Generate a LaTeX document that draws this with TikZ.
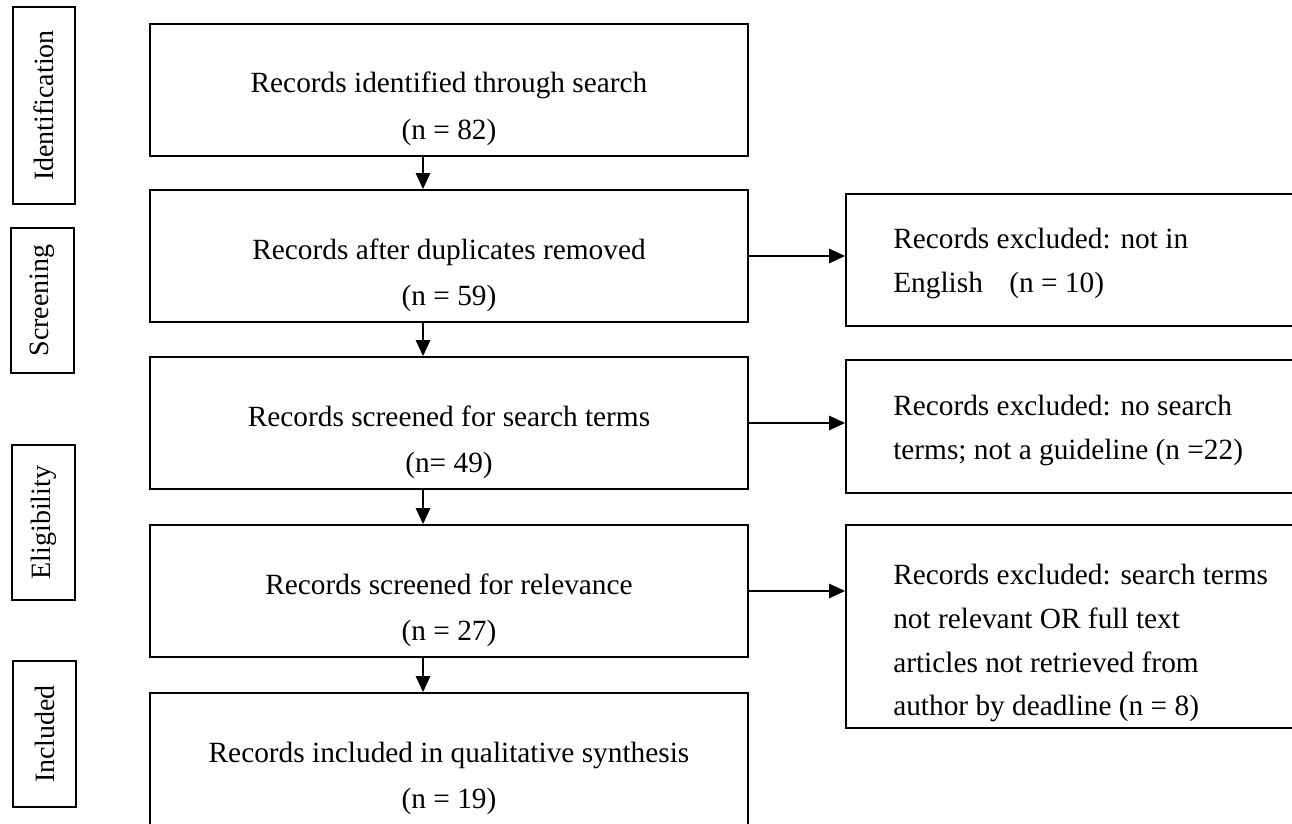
\documentclass[tikz,border=0pt]{standalone}
\usepackage{fontspec}
\setmainfont{Liberation Serif}
\usetikzlibrary{arrows.meta}
\begin{document}
\begin{tikzpicture}[x=0.75pt,y=-0.75pt,
  mainbox/.style={draw, line width=1.5pt, inner sep=0pt},
  sidebox/.style={draw, line width=1.5pt, inner sep=0pt},
  labbox/.style={draw, line width=1.1pt, inner sep=0pt, rotate=90, font=\fontsize{21}{25}\selectfont},
  txt/.style={inner sep=0pt, font=\fontsize{22}{26}\selectfont},
  ctxt/.style={txt, anchor=base},
  ltxt/.style={txt, anchor=base west},
  arr/.style={line width=0.8pt, -{Triangle[length=12pt,width=11pt]}}
]
\useasboundingbox (0,0) rectangle (1292,824);
\clip (0,0) rectangle (1292,824);

% stage labels
\node[labbox, minimum width=147.75pt, minimum height=46.5pt] (L1) at (44,105.5) {Identification};
\node[labbox, minimum width=108.75pt, minimum height=47.25pt] (L2) at (42.5,300.5) {Screening};
\node[labbox, minimum width=116.25pt, minimum height=47.25pt] (L3) at (43.5,522.5) {Eligibility};
\node[labbox, minimum width=109.5pt, minimum height=47.25pt] (L4) at (44.5,734) {Included};

% main boxes
\node[mainbox, minimum width=448.5pt, minimum height=99pt] (b1) at (449,90) {};
\node[mainbox, minimum width=448.5pt, minimum height=99pt] (b2) at (449,256) {};
\node[mainbox, minimum width=448.5pt, minimum height=99pt] (b3) at (449,423) {};
\node[mainbox, minimum width=448.5pt, minimum height=99pt] (b4) at (449,591) {};
\node[mainbox, minimum width=448.5pt, minimum height=100.5pt] (b5) at (449,760) {};

\node[ctxt] (t1a) at (449,93) {Records identified through search};
\node[ctxt] (t1b) at (449,139) {(n = 82)};
\node[ctxt] (t2a) at (449,259) {Records after duplicates removed};
\node[ctxt] (t2b) at (449,305) {(n = 59)};
\node[ctxt] (t3a) at (449,426) {Records screened for search terms};
\node[ctxt] (t3b) at (449,472) {(n= 49)};
\node[ctxt] (t4a) at (449,594) {Records screened for relevance};
\node[ctxt] (t4b) at (449,640) {(n = 27)};
\node[ctxt] (t5a) at (449,762) {Records included in qualitative synthesis};
\node[ctxt] (t5b) at (449,808) {(n = 19)};

% side boxes
\node[sidebox, minimum width=340.5pt, minimum height=99pt] (r1) at (1073,260) {};
\node[sidebox, minimum width=340.5pt, minimum height=99.75pt] (r2) at (1073,426.5) {};
\node[sidebox, minimum width=340.5pt, minimum height=152.25pt] (r3) at (1073,626.5) {};

\node[ltxt] (s1a) at (893,248) {Records excluded: not in};
\node[ltxt] (s1b) at (893,292) {English\hspace{0.9em}(n = 10)};
\node[ltxt] (s2a) at (893,415) {Records excluded: no search};
\node[ltxt] (s2b) at (893,459) {terms; not a guideline (n =22)};
\node[ltxt] (s3a) at (893,584) {Records excluded: search terms};
\node[ltxt] (s3b) at (893,628) {not relevant OR full text};
\node[ltxt] (s3c) at (893,672) {articles not retrieved from};
\node[ltxt] (s3d) at (893,715) {author by deadline (n = 8)};

% connectors
\coordinate (ax) at (423,0);
\draw[arr] (b1.south -| ax) -- (b2.north -| ax);
\draw[arr] (b2.south -| ax) -- (b3.north -| ax);
\draw[arr] (b3.south -| ax) -- (b4.north -| ax);
\draw[arr] (b4.south -| ax) -- (b5.north -| ax);
\draw[arr] (b2.east) -- (b2.east -| r1.west);
\draw[arr] (b3.east) -- (b3.east -| r2.west);
\draw[arr] (b4.east) -- (b4.east -| r3.west);
\end{tikzpicture}
\end{document}
